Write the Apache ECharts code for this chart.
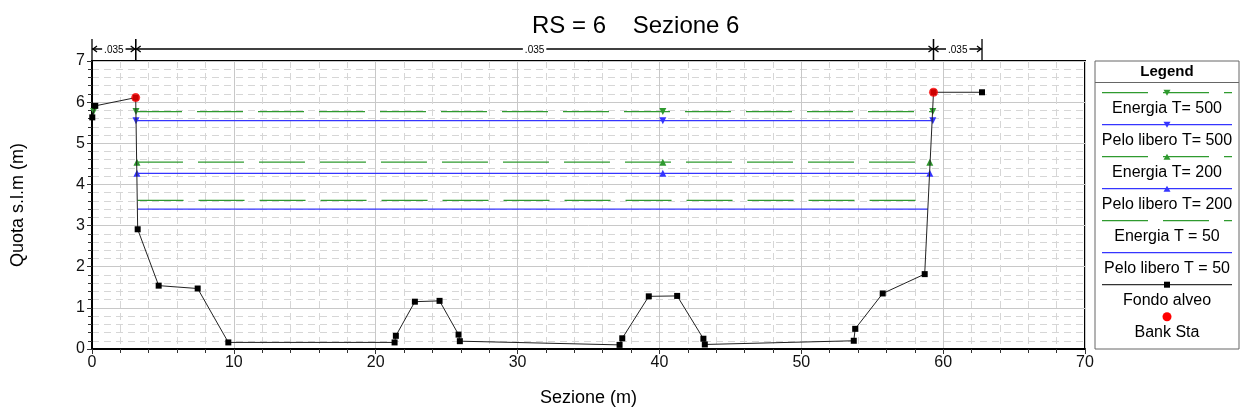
<!DOCTYPE html>
<html>
<head>
<meta charset="utf-8">
<script src="https://cdn.jsdelivr.net/npm/echarts@6/dist/echarts.min.js"></script>
<style>
  html, body {margin: 0; padding: 0; background: #fff;}
  #chart {width: 1242px; height: 414px;}
</style>
</head>
<body>
<div id="chart"></div>
<script>
// fondo alveo (ground profile)
const fondoX = [0.02, 0.23, 3.08, 3.22, 4.7, 7.45, 9.61, 21.33, 21.42, 22.76, 24.5, 25.84, 25.93, 37.19, 37.38, 39.25, 41.25, 43.1, 43.2, 53.7, 53.8, 55.74, 58.7, 59.32, 62.74]
const fondoY = [5.63, 5.91, 6.11, 2.91, 1.54, 1.47, 0.16, 0.16, 0.32, 1.15, 1.17, 0.35, 0.19, 0.10, 0.26, 1.28, 1.29, 0.25, 0.11, 0.20, 0.49, 1.35, 1.82, 6.24, 6.24]

// bank stations
const bankX = [3.08, 59.32]
const bankY = [6.11, 6.24]

// water profiles: level and extent across the section (start, marker, end)
const energia500X = [3.1, 40.24, 59.27]
const energia500Y = 5.77
const energia500LeftX = [0.12]
const pelo500X = [3.1, 40.24, 59.27]
const pelo500Y = 5.55
const energia200X = [3.17, 40.24, 59.06]
const energia200Y = 4.54
const pelo200X = [3.17, 40.24, 59.06]
const pelo200Y = 4.27
const energia50X = [3.21, 58.9]
const energia50Y = 3.61
const pelo50X = [3.21, 58.93]
const pelo50Y = 3.40

// manning n breaks
const nBreaks = [0, 3.08, 59.32, 62.74]
const nValues = ['.035', '.035', '.035']

const GREEN = '#2f9a2f'
const BLUE = '#3535ff'
const DASH = [46, 15]
const FONT = 'Liberation Sans, Arial, sans-serif'

const level = (xs, y) => xs.map(x => [x, y])

const legendItems = [
  {name: 'Energia T= 500', color: GREEN, dash: DASH, mark: 'down'},
  {name: 'Pelo libero T= 500', color: BLUE, dash: null, mark: 'down'},
  {name: 'Energia T= 200', color: GREEN, dash: DASH, mark: 'up'},
  {name: 'Pelo libero T= 200', color: BLUE, dash: null, mark: 'up'},
  {name: 'Energia T = 50', color: GREEN, dash: DASH, mark: null},
  {name: 'Pelo libero T = 50', color: BLUE, dash: null, mark: null},
  {name: 'Fondo alveo', color: '#333', dash: null, mark: 'square'},
  {name: 'Bank Sta', color: null, dash: null, mark: 'dot'},
]

function legendGraphic() {
  const L = 1095, W = 144, T = 61, H = 288, cx = L + W / 2
  const els = [
    {type: 'rect', shape: {x: L, y: T, width: W, height: H}, style: {fill: '#fff', stroke: '#666', lineWidth: 1}},
    {type: 'text', x: cx, y: 72, style: {text: 'Legend', font: 'bold 15px ' + FONT, fill: '#000', align: 'center', verticalAlign: 'middle'}},
    {type: 'line', shape: {x1: L, y1: 82.5, x2: L + W, y2: 82.5}, style: {stroke: '#666', lineWidth: 1}},
  ]
  legendItems.forEach((it, i) => {
    const y = 92.7 + i * 32
    if (it.color) {
      els.push({type: 'line', shape: {x1: 1102, y1: y, x2: 1232, y2: y}, style: {stroke: it.color, lineWidth: 1.3, lineDash: it.dash}})
    }
    const mc = it.color
    if (it.mark === 'down') els.push({type: 'polygon', shape: {points: [[cx - 3.5, y - 3], [cx + 3.5, y - 3], [cx, y + 3]]}, style: {fill: mc}})
    if (it.mark === 'up') els.push({type: 'polygon', shape: {points: [[cx - 3.5, y + 3], [cx + 3.5, y + 3], [cx, y - 3]]}, style: {fill: mc}})
    if (it.mark === 'square') els.push({type: 'rect', shape: {x: cx - 3, y: y - 3, width: 6, height: 6}, style: {fill: '#000'}})
    if (it.mark === 'dot') els.push({type: 'circle', shape: {cx: cx, cy: y, r: 4.5}, style: {fill: '#ff0000'}})
    els.push({type: 'text', x: cx, y: y + 15.5, style: {text: it.name, font: '16px ' + FONT, fill: '#000', align: 'center', verticalAlign: 'middle'}})
  })
  return els
}

function levelSeries(name, xs, y, color, dash, symbol) {
  return {
    name: name,
    type: 'line',
    data: level(xs, y),
    symbol: symbol || 'none',
    symbolSize: 7,
    showSymbol: !!symbol,
    itemStyle: {color: color},
    lineStyle: {color: color, width: 1.3, type: dash || 'solid'},
    z: 3,
    silent: true,
  }
}

const chart = echarts.init(document.getElementById('chart'))

chart.setOption({
  animation: false,
  backgroundColor: '#fff',
  textStyle: {fontFamily: FONT},
  title: {
    text: 'RS = 6    Sezione 6',
    left: 527,
    top: 9,
    textStyle: {fontSize: 24, fontWeight: 'normal', color: '#000', fontFamily: FONT},
  },
  grid: {left: 92, right: 157, top: 61, bottom: 65, show: true, borderColor: '#000', borderWidth: 2, backgroundColor: 'transparent'},
  xAxis: {
    type: 'value',
    min: 0, max: 70, interval: 10,
    name: 'Sezione (m)',
    nameLocation: 'middle',
    nameGap: 40,
    nameTextStyle: {fontSize: 18, color: '#000'},
    axisLine: {lineStyle: {color: '#000', width: 2}},
    axisTick: {show: true, length: 5, lineStyle: {color: '#333'}},
    minorTick: {show: true, splitNumber: 5, length: 4, lineStyle: {color: '#333'}},
    axisLabel: {fontSize: 16, color: '#111', margin: 6},
    splitLine: {show: true, lineStyle: {color: '#c8c8c8', width: 1}},
    minorSplitLine: {show: true, lineStyle: {color: '#d6d6d6', width: 1, type: [7, 5]}},
  },
  yAxis: {
    type: 'value',
    min: 0, max: 7, interval: 1,
    name: 'Quota s.l.m (m)',
    nameLocation: 'middle',
    nameGap: 65,
    nameTextStyle: {fontSize: 18, color: '#000'},
    axisLine: {show: true, lineStyle: {color: '#000', width: 2}},
    axisTick: {show: true, length: 5, lineStyle: {color: '#333'}},
    minorTick: {show: true, splitNumber: 5, length: 4, lineStyle: {color: '#333'}},
    axisLabel: {fontSize: 16, color: '#111', margin: 7},
    splitLine: {show: true, lineStyle: {color: '#c8c8c8', width: 1}},
    minorSplitLine: {show: true, lineStyle: {color: '#d6d6d6', width: 1, type: [7, 5]}},
  },
  graphic: legendGraphic(),
  series: [
    levelSeries('Energia T = 50', energia50X, energia50Y, GREEN, DASH, null),
    levelSeries('Pelo libero T = 50', pelo50X, pelo50Y, BLUE, null, null),
    levelSeries('Energia T= 200', energia200X, energia200Y, GREEN, DASH, 'triangle'),
    levelSeries('Pelo libero T= 200', pelo200X, pelo200Y, BLUE, null, 'triangle'),
    levelSeries('Energia T= 500', energia500X, energia500Y, GREEN, DASH, 'path://M0,0L10,0L5,8Z'),
    levelSeries('Energia T= 500 sx', energia500LeftX, energia500Y, GREEN, DASH, 'path://M0,0L10,0L5,8Z'),
    levelSeries('Pelo libero T= 500', pelo500X, pelo500Y, BLUE, null, 'path://M0,0L10,0L5,8Z'),
    {
      name: 'Fondo alveo',
      type: 'line',
      data: fondoX.map((x, i) => [x, fondoY[i]]),
      symbol: 'rect',
      symbolSize: 6,
      itemStyle: {color: '#000'},
      lineStyle: {color: '#222', width: 1},
      z: 4,
      silent: true,
    },
    {
      name: 'Bank Sta',
      type: 'scatter',
      data: bankX.map((x, i) => [x, bankY[i]]),
      symbol: 'circle',
      symbolSize: 9,
      itemStyle: {color: '#ff0000'},
      z: 5,
      silent: true,
    },
    {
      name: 'n',
      type: 'custom',
      clip: false,
      silent: true,
      z: 6,
      data: nValues.map((v, i) => [nBreaks[i], nBreaks[i + 1], 7]),
      encode: {x: [0, 1], y: 2},
      renderItem: (params, api) => {
        const a = api.coord([api.value(0), api.value(2)])
        const b = api.coord([api.value(1), api.value(2)])
        const top = a[1] - 1
        const yl = top - 11
        const y0 = top - 21
        const st = {stroke: '#000', lineWidth: 1.3, fill: null}
        return {
          type: 'group',
          children: [
            {type: 'line', shape: {x1: a[0], y1: y0, x2: a[0], y2: top}, style: st},
            {type: 'line', shape: {x1: b[0], y1: y0, x2: b[0], y2: top}, style: st},
            {type: 'line', shape: {x1: a[0], y1: yl, x2: b[0], y2: yl}, style: st},
            {type: 'polyline', shape: {points: [[a[0] + 5, yl - 3], [a[0] + 1, yl], [a[0] + 5, yl + 3]]}, style: st},
            {type: 'polyline', shape: {points: [[b[0] - 5, yl - 3], [b[0] - 1, yl], [b[0] - 5, yl + 3]]}, style: st},
            {
              type: 'text', x: (a[0] + b[0]) / 2, y: yl + 1,
              style: {text: nValues[params.dataIndex], font: '10px ' + FONT, fill: '#000', align: 'center', verticalAlign: 'middle', backgroundColor: '#fff', padding: [0, 2]},
            },
          ],
        }
      },
    },
  ],
})
</script>
</body>
</html>
